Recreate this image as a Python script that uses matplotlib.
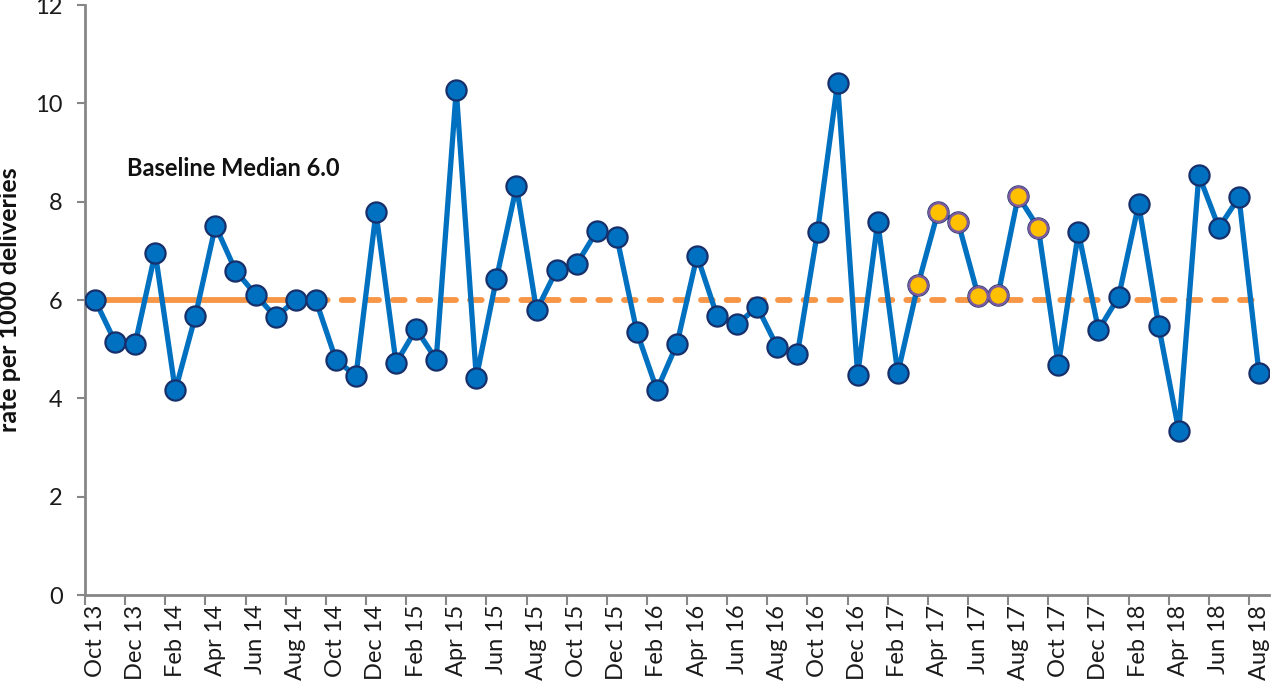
import matplotlib
matplotlib.use("Agg")
import matplotlib.pyplot as plt
import numpy as np

months = ["Oct 13","Nov 13","Dec 13","Jan 14","Feb 14","Mar 14","Apr 14","May 14","Jun 14","Jul 14",
          "Aug 14","Sep 14","Oct 14","Nov 14","Dec 14","Jan 15","Feb 15","Mar 15","Apr 15","May 15",
          "Jun 15","Jul 15","Aug 15","Sep 15","Oct 15","Nov 15","Dec 15","Jan 16","Feb 16","Mar 16",
          "Apr 16","May 16","Jun 16","Jul 16","Aug 16","Sep 16","Oct 16","Nov 16","Dec 16","Jan 17",
          "Feb 17","Mar 17","Apr 17","May 17","Jun 17","Jul 17","Aug 17","Sep 17","Oct 17","Nov 17",
          "Dec 17","Jan 18","Feb 18","Mar 18","Apr 18","May 18","Jun 18","Jul 18","Aug 18"]
rate = [6.0, 5.15, 5.11, 6.96, 4.16, 5.67, 7.51, 6.60, 6.11, 5.65,
        6.0, 6.0, 4.79, 4.45, 7.78, 4.72, 5.41, 4.79, 10.27, 4.42,
        6.43, 8.31, 5.79, 6.61, 6.73, 7.40, 7.28, 5.35, 4.17, 5.11,
        6.90, 5.67, 5.51, 5.86, 5.04, 4.91, 7.39, 10.42, 4.48, 7.59,
        4.51, 6.30, 7.79, 7.59, 6.09, 6.11, 8.11, 7.47, 4.67, 7.38,
        5.39, 6.06, 7.95, 5.47, 3.34, 8.54, 7.47, 8.09, 4.51]
highlight = list(range(41, 48))   # Mar 17 - Sep 17
baseline_median = 6.0
baseline_end = 11                 # Sep 14
label_text = "Baseline Median 6.0"
ylabel = "rate per 1000 deliveries"

plt.rcParams['font.family'] = ['Lato', 'DejaVu Sans']

fig = plt.figure(figsize=(12.72, 6.96), dpi=100)
ax = fig.add_axes([0.0668, 0.1451, 0.9309, 0.8477])

x = np.arange(len(rate))
orange = "#F79646"
ax.plot([0, baseline_end], [baseline_median]*2, color=orange, lw=4.2, solid_capstyle='butt', zorder=1)
ax.plot([baseline_end, len(rate)-1], [baseline_median]*2, color=orange, lw=4.2,
        dashes=(2.0, 2.4), dash_capstyle='round', zorder=1)

ax.plot(x, rate, color="#0070C0", lw=3.8, zorder=2)
ax.plot(x, rate, ls='none', marker='o', ms=14.5, mfc="#0070C0", mec="#17306B", mew=1.6, zorder=3)
hx = [i for i in highlight]
hy = [rate[i] for i in highlight]
ax.plot(hx, hy, ls='none', marker='o', ms=13.5, mfc="#FFC000", mec="#7A5C9E", mew=1.8, zorder=4)

ax.text(1.6, 8.68, label_text, fontsize=17, fontweight='bold', color='#111111',
        ha='left', va='center')

ax.set_xlim(-0.5, len(rate) - 0.5)
ax.set_ylim(0, 12)
ax.set_yticks(range(0, 13, 2))
ax.set_xticks(np.arange(-0.5, len(rate), 2))
ax.set_xticklabels([])
ax.set_xticks(np.arange(0, len(rate), 2), minor=True)
ax.set_xticklabels([months[i] for i in range(0, len(rate), 2)], minor=True, rotation=90,
                   fontsize=17, color='#1a1a1a')
ax.tick_params(axis='x', which='minor', length=0, pad=7)
ax.tick_params(axis='x', which='major', length=7, width=1.5, color='#868686', direction='out')
ax.tick_params(axis='y', length=6, width=1.5, color='#868686', direction='out',
               labelsize=17, labelcolor='#1a1a1a', pad=10)

for s in ['top', 'right']:
    ax.spines[s].set_visible(False)
for s in ['left', 'bottom']:
    ax.spines[s].set_color('#868686')
    ax.spines[s].set_linewidth(2)

ax.set_ylabel(ylabel, fontsize=18, fontweight='bold', color='#111111')
ax.yaxis.set_label_coords(-0.054, 0.5)

fig.savefig("out.png", dpi=100)
